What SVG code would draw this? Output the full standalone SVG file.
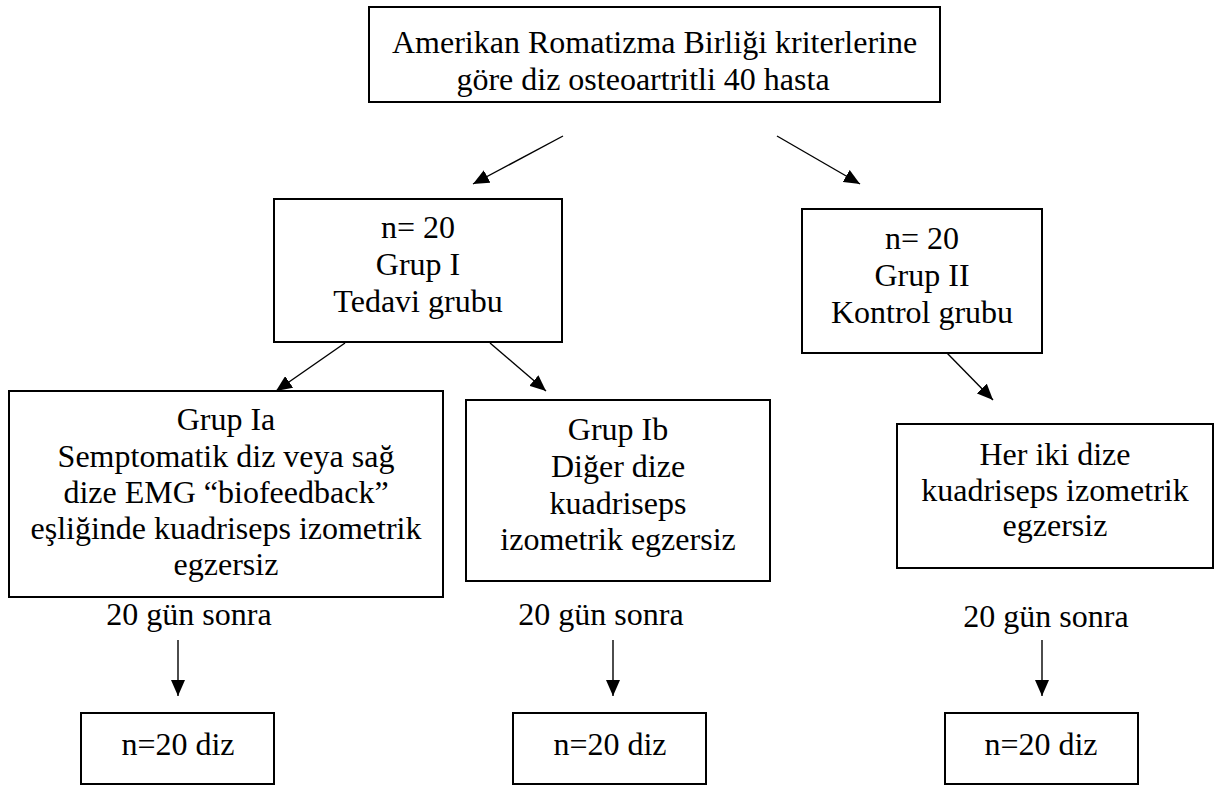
<svg xmlns="http://www.w3.org/2000/svg" width="1215" height="787" viewBox="0 0 1215 787">
<style>
.box{fill:#fff;stroke:#000;stroke-width:2}
.t{font-family:'Liberation Serif','Times New Roman',serif;font-size:32px;fill:#000}
.c{text-anchor:middle}
.arr{stroke:#000;stroke-width:1.4;fill:none;marker-end:url(#ah)}
</style>
<defs>
<marker id="ah" markerWidth="16" markerHeight="14" refX="16" refY="7" orient="auto" markerUnits="userSpaceOnUse">
<path d="M0,0 L16,7 L0,14 Z" fill="#000"/>
</marker>
</defs>
<rect width="1215" height="787" fill="#fff"/>
<g font-family="Liberation Serif, Times New Roman, serif">
<g id="top">
<rect class="box" x="369" y="7" width="571" height="95"/>
<text class="t" x="392" y="53">Amerikan Romatizma Birliği kriterlerine</text>
<text class="t c" x="643" y="90">göre diz osteoartritli 40 hasta</text>
</g>
<g id="grup1">
<rect class="box" x="274" y="199" width="288" height="143"/>
<text class="t c" x="418" y="238">n= 20</text>
<text class="t c" x="418" y="275">Grup I</text>
<text class="t c" x="418" y="312">Tedavi grubu</text>
</g>
<g id="grup2">
<rect class="box" x="802" y="209" width="240" height="144"/>
<text class="t c" x="922" y="249">n= 20</text>
<text class="t c" x="922" y="286">Grup II</text>
<text class="t c" x="922" y="323">Kontrol grubu</text>
</g>
<g id="grup1a">
<rect class="box" x="9" y="391" width="434" height="206"/>
<text class="t c" x="226" y="430">Grup Ia</text>
<text class="t c" x="226" y="467">Semptomatik diz veya sağ</text>
<text class="t c" x="226" y="503">dize EMG “biofeedback”</text>
<text class="t c" x="226" y="539">eşliğinde kuadriseps izometrik</text>
<text class="t c" x="226" y="575">egzersiz</text>
</g>
<g id="grup1b">
<rect class="box" x="466" y="400" width="304" height="181"/>
<text class="t c" x="618" y="440">Grup Ib</text>
<text class="t c" x="618" y="477">Diğer dize</text>
<text class="t c" x="618" y="514">kuadriseps</text>
<text class="t c" x="618" y="550">izometrik egzersiz</text>
</g>
<g id="heriki">
<rect class="box" x="897" y="424" width="316" height="144"/>
<text class="t c" x="1055" y="465">Her iki dize</text>
<text class="t c" x="1055" y="501">kuadriseps izometrik</text>
<text class="t c" x="1055" y="536">egzersiz</text>
</g>
<g id="labels">
<text class="t c" x="189" y="625">20 gün sonra</text>
<text class="t c" x="601" y="625">20 gün sonra</text>
<text class="t c" x="1046" y="627">20 gün sonra</text>
</g>
<g id="out1">
<rect class="box" x="81" y="713" width="193" height="71"/>
<text class="t c" x="178" y="755">n=20 diz</text>
</g>
<g id="out2">
<rect class="box" x="513" y="713" width="193" height="71"/>
<text class="t c" x="610" y="755">n=20 diz</text>
</g>
<g id="out3">
<rect class="box" x="945" y="713" width="193" height="71"/>
<text class="t c" x="1041" y="755">n=20 diz</text>
</g>
</g>
<g id="connectors">
<line class="arr" x1="563" y1="136" x2="473" y2="184"/>
<line class="arr" x1="777" y1="136" x2="860" y2="184"/>
<line class="arr" x1="345" y1="343" x2="276" y2="391"/>
<line class="arr" x1="490" y1="343" x2="546" y2="391"/>
<line class="arr" x1="947" y1="353" x2="993" y2="400"/>
<line class="arr" x1="178" y1="640" x2="178" y2="696"/>
<line class="arr" x1="613" y1="640" x2="613" y2="696"/>
<line class="arr" x1="1042" y1="640" x2="1042" y2="696"/>
</g>
</svg>
